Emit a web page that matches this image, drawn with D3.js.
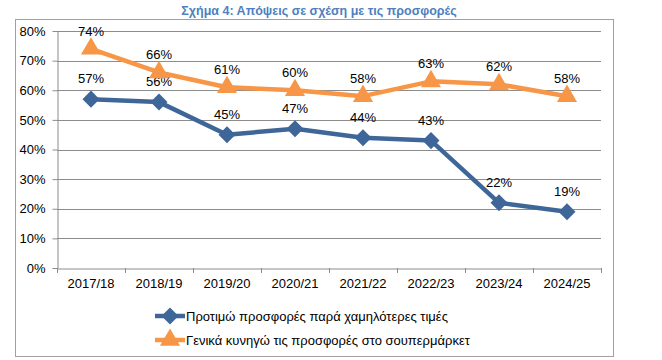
<!DOCTYPE html>
<html><head><meta charset="utf-8">
<script src="https://cdn.jsdelivr.net/npm/d3@7"></script>
<style>body{margin:0;background:#fff;} text{font-family:"Liberation Sans",Arial,sans-serif;}</style>
</head><body><svg id="c" width="662" height="360"></svg>
<script>
const categories = ["2017/18","2018/19","2019/20","2020/21","2021/22","2022/23","2023/24","2024/25"];
const preferOffers = [57,56,45,47,44,43,22,19];
const huntOffers = [74,66,61,60,58,63,62,58];
const yTicks = [0,10,20,30,40,50,60,70,80];
const seriesNames = ["Προτιμώ προσφορές παρά χαμηλότερες τιμές","Γενικά κυνηγώ τις προσφορές στο σουπερμάρκετ"];
const title = "Σχήμα 4: Απόψεις σε σχέση με τις προσφορές";

const svg = d3.select("#c");
const m = {l:57, r:601, t:31, b:268};
const x = d3.scaleBand().domain(categories).range([m.l, m.r]);
const y = d3.scaleLinear().domain([0,80]).range([m.b, m.t]);
const blue = "#3F6699", orange = "#F79646";

svg.append("text").attr("x",319).attr("y",15).attr("text-anchor","middle")
  .attr("font-size",12.5).attr("font-weight","bold").attr("fill","#4F7FBF").text(title);
svg.append("rect").attr("x",15.5).attr("y",19.5).attr("width",598).attr("height",337)
  .attr("fill","none").attr("stroke","#a0a0a0");

svg.append("g").selectAll("line").data(yTicks.filter(d=>d>0)).join("line")
  .attr("x1",m.l).attr("x2",m.r).attr("y1",d=>Math.round(y(d))+0.5).attr("y2",d=>Math.round(y(d))+0.5)
  .attr("stroke","#8c8c8c");

const ya = svg.append("g").attr("transform",`translate(${m.l+0.5},0)`)
  .call(d3.axisLeft(y).tickValues(yTicks).tickFormat(d=>d+"%").tickSize(5).tickSizeOuter(0));
ya.select(".domain").attr("stroke","#8c8c8c");
ya.selectAll(".tick line").attr("stroke","#8c8c8c");
ya.selectAll("text").attr("font-size",13).attr("fill","#000").attr("x",-12).attr("font-family","Liberation Sans, Arial");

const xa = svg.append("g").attr("transform",`translate(0,${Math.round(m.b)+0.5})`)
  .call(d3.axisBottom(x).tickSize(0).tickSizeOuter(0));
xa.select(".domain").attr("stroke","#8c8c8c");
xa.selectAll("text").attr("font-size",13).attr("fill","#000").attr("dy","1.25em").attr("font-family","Liberation Sans, Arial");
const bounds = categories.map(c=>x(c)).concat([m.r]);
svg.append("g").selectAll("line").data(bounds).join("line")
  .attr("x1",d=>Math.round(d)+0.5).attr("x2",d=>Math.round(d)+0.5)
  .attr("y1",m.b).attr("y2",m.b+5).attr("stroke","#8c8c8c");

const cx = c => x(c)+x.bandwidth()/2;
const line = d3.line().x((d,i)=>cx(categories[i])).y(d=>y(d));
const markers = {
  diamond: {sym:d3.symbolSquare, size:145, rot:45},
  triangle: {sym:d3.symbolTriangle, size:175, rot:0}
};

function drawSeries(vals, color, mk, labelOff){
  svg.append("path").datum(vals).attr("d",line).attr("fill","none").attr("stroke",color).attr("stroke-width",4.5).attr("stroke-linejoin","round");
  svg.append("g").selectAll("path").data(vals).join("path")
    .attr("transform",(d,i)=>`translate(${cx(categories[i])},${y(d)}) rotate(${mk.rot})`)
    .attr("d",d3.symbol(mk.sym,mk.size)).attr("fill",color);
  svg.append("g").selectAll("text").data(vals).join("text")
    .attr("x",(d,i)=>cx(categories[i])).attr("y",d=>y(d)+labelOff)
    .attr("text-anchor","middle").attr("font-size",13).attr("fill","#000").text(d=>d+"%");
}
drawSeries(preferOffers, blue, markers.diamond, -16);
drawSeries(huntOffers, orange, markers.triangle, -13);

const lg = svg.append("g");
[[blue,markers.diamond],[orange,markers.triangle]].forEach((s,i)=>{
  const yy = 316 + i*24;
  lg.append("line").attr("x1",155).attr("x2",185).attr("y1",yy).attr("y2",yy).attr("stroke",s[0]).attr("stroke-width",4.5);
  lg.append("path").attr("transform",`translate(170,${yy}) rotate(${s[1].rot})`).attr("d",d3.symbol(s[1].sym,s[1].size)).attr("fill",s[0]);
  lg.append("text").attr("x",186).attr("y",yy+4.5).attr("font-size",13).attr("fill","#000").text(seriesNames[i]);
});
</script></body></html>
